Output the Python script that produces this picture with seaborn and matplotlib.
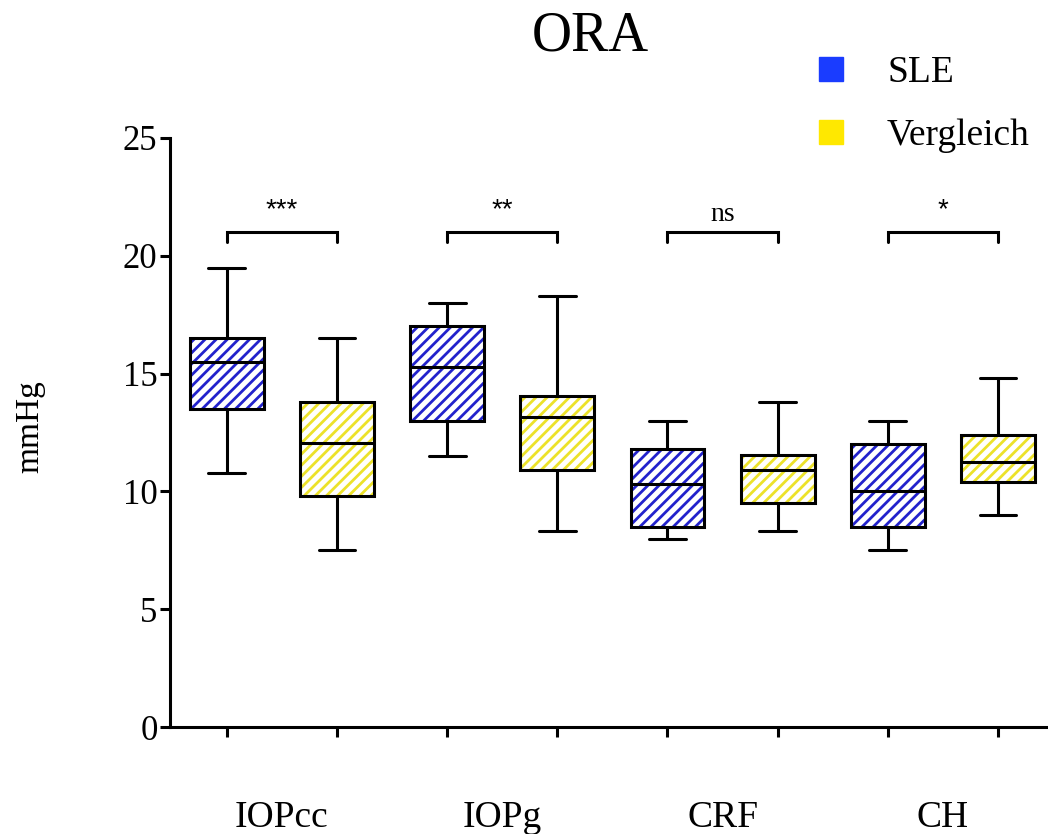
import numpy as np
import pandas as pd
import matplotlib
matplotlib.use("Agg")
import matplotlib.pyplot as plt
from matplotlib.patches import PathPatch
from matplotlib.lines import Line2D
from matplotlib.colors import to_rgba
import seaborn as sns

# ---------------- data (five-number summaries) -------------
params = ["IOPcc", "IOPg", "CRF", "CH"]
groups = ["SLE", "Vergleich"]

sle_min = [10.8, 11.5, 8.0, 7.5]
sle_q1 = [13.5, 13.0, 8.5, 8.5]
sle_med = [15.5, 15.3, 10.3, 10.0]
sle_q3 = [16.5, 17.0, 11.8, 12.0]
sle_max = [19.5, 18.0, 13.0, 13.0]

ver_min = [7.5, 8.3, 8.3, 9.0]
ver_q1 = [9.8, 10.9, 9.5, 10.4]
ver_med = [12.05, 13.15, 10.9, 11.25]
ver_q3 = [13.8, 14.05, 11.55, 12.4]
ver_max = [16.5, 18.3, 13.8, 14.8]

significance = ["***", "**", "ns", "*"]
yticks = [0, 5, 10, 15, 20, 25]

legend_colors = ["#1a3cff", "#ffe800"]
hatch_colors = ["#2222cc", "#ece22a"]

rows = []
for i, p in enumerate(params):
    for v in (sle_min[i], sle_q1[i], sle_med[i], sle_q3[i], sle_max[i]):
        rows.append((p, "SLE", v))
    for v in (ver_min[i], ver_q1[i], ver_med[i], ver_q3[i], ver_max[i]):
        rows.append((p, "Vergleich", v))
df = pd.DataFrame(rows, columns=["param", "group", "value"])

# ---------------- style ---------------------------------------------------------
sns.set_style("ticks")
plt.rcParams["font.family"] = ["Liberation Serif", "DejaVu Serif"]
plt.rcParams["hatch.linewidth"] = 2.0
for k in ("text.color", "axes.labelcolor", "xtick.color", "ytick.color",
          "xtick.labelcolor", "ytick.labelcolor"):
    plt.rcParams[k] = "black"
LW = 2.2

fig = plt.figure(figsize=(10.48, 8.34), dpi=100)
ax = fig.add_axes([170 / 1048, 1 - 727 / 834, 878 / 1048, 589 / 834])

sns.boxplot(data=df, x="param", y="value", hue="group", order=params,
            hue_order=groups, palette=legend_colors, whis=(0, 100),
            width=1.0, gap=0.33, linecolor="black", linewidth=LW,
            legend=False, ax=ax)

# hatched boxes: white fill, coloured stripes, black outline
pal_rgba = [to_rgba(c) for c in legend_colors]
for patch in list(ax.patches):
    fc = patch.get_facecolor()
    gi = int(np.argmin([sum((a - b) ** 2 for a, b in zip(fc[:3], c[:3])) for c in pal_rgba]))
    patch.set_facecolor("white")
    patch.set_edgecolor(hatch_colors[gi])
    patch.set_hatch("///")
    patch.set_linewidth(0)
    outline = PathPatch(patch.get_path(), transform=patch.get_transform(),
                        fill=False, edgecolor="black", linewidth=LW,
                        zorder=patch.get_zorder() + 0.05)
    ax.add_patch(outline)

# axes
ax.set_ylim(0, 25)
ax.set_xlim(-0.508, 3.477)
ax.set_yticks(yticks)
ax.set_yticklabels([str(t) for t in yticks])
ax.set_xticks(range(len(params)))
ax.set_xticklabels(params)
ax.set_xticks([i + d for i in range(len(params)) for d in (-0.25, 0.25)], minor=True)
ax.tick_params(axis="x", which="major", length=0, pad=53, labelsize=27)
ax.tick_params(axis="x", which="minor", length=7, width=LW, direction="out")
ax.tick_params(axis="y", length=7, width=LW, direction="out", labelsize=25, pad=2)
for s in ("top", "right"):
    ax.spines[s].set_visible(False)
for s in ("left", "bottom"):
    ax.spines[s].set_linewidth(LW)
    ax.spines[s].set_color("black")
ax.set_xlabel("")
ax.set_ylabel("mmHg", fontsize=24)
ax.yaxis.set_label_coords(-0.142, 0.51)

# significance brackets
for i, s in enumerate(significance):
    x0, x1 = i - 0.25, i + 0.25
    ax.plot([x0, x0, x1, x1], [20.6, 21.0, 21.0, 20.6], color="black",
            lw=LW, solid_joinstyle="miter", clip_on=False)
    if s == "ns":
        ax.text(i, 21.48, s, ha="center", va="baseline", fontsize=20)
    else:
        ax.text(i, 21.62, s, ha="center", va="baseline", fontsize=20,
                family=["Liberation Sans", "DejaVu Sans"])

# title
fig.text(0.563, 0.956, "ORA", ha="center", va="center", fontsize=40)

# legend
handles = [Line2D([], [], marker="s", linestyle="", markersize=17,
                  markerfacecolor=c, markeredgecolor=c) for c in legend_colors]
fig.legend(handles, groups, loc="upper left", bbox_to_anchor=(812 / 1048, 1 - 56 / 834),
           frameon=False, fontsize=27, borderpad=0, handlelength=1.0,
           handletextpad=1.0, labelspacing=0.74, borderaxespad=0)

fig.savefig("out.png", dpi=100)
